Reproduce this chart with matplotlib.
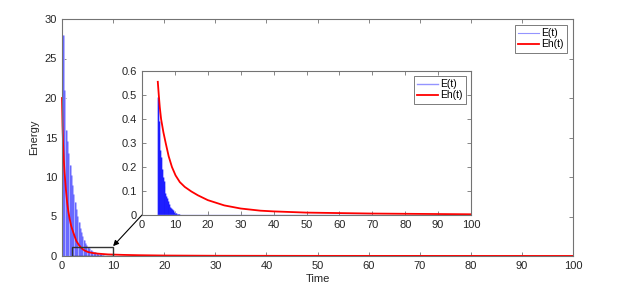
import numpy as np
import matplotlib.pyplot as plt
from matplotlib.patches import Rectangle

plt.rcParams['font.family'] = ['Liberation Sans', 'DejaVu Sans']
plt.rcParams['font.size'] = 8

# E(t) spikes in main plot (peak times and heights)
main_peak_t = [0.15, 0.45, 0.75, 1.0, 1.25, 1.5, 1.75, 2.0, 2.25, 2.5, 2.75, 3.0, 3.25,
               3.5, 3.75, 4.0, 4.25, 4.5, 4.75, 5.0, 5.3, 5.6, 5.9, 6.2, 6.5, 6.8,
               7.1, 7.4, 7.7, 8.0]
main_peak_e = [28, 21, 16, 14.5, 13, 11.5, 10.2, 9, 7.8, 6.8, 6, 5.1, 4.3,
               3.6, 3.0, 2.5, 2.0, 1.7, 1.4, 1.15, 0.95, 0.8, 0.65, 0.55, 0.45, 0.38,
               0.3, 0.25, 0.2, 0.15]

# Eh(t) in main plot
main_t = [0, 0.1, 0.2, 0.35, 0.5, 0.75, 1.0, 1.25, 1.5, 1.8, 2.2, 2.8, 3.3, 3.8, 4.4,
          5.1, 6, 7, 9, 12, 15, 20, 30, 50, 100]
main_eh = [20, 16.5, 14.4, 12.2, 10.6, 8.5, 6.8, 5.6, 4.7, 3.8, 3.0, 1.9, 1.4, 1.0, 0.7,
           0.5, 0.38, 0.3, 0.2, 0.14, 0.1, 0.06, 0.03, 0.015, 0.005]

# inset: E(t) spikes
ins_peak_t = [4.8, 5.05, 5.3, 5.55, 5.8, 6.05, 6.3, 6.55, 6.8, 7.05, 7.3, 7.55, 7.8,
              8.05, 8.3, 8.55, 8.8, 9.05, 9.3, 9.55, 9.8, 10.05, 10.3, 10.55, 10.8, 11.1]
ins_peak_e = [0.49, 0.39, 0.34, 0.27, 0.24, 0.19, 0.16, 0.14, 0.12, 0.09, 0.08, 0.07,
              0.06, 0.05, 0.045, 0.035, 0.03, 0.025, 0.02, 0.016, 0.013, 0.01, 0.008,
              0.006, 0.005, 0.003]

# inset: Eh(t)
ins_t = [4.8, 5.1, 5.4, 5.8, 6.5, 7.2, 8.1, 9.1, 10.2, 11.5, 13, 15, 17, 20, 25, 30,
         36, 40, 50, 60, 70, 80, 90, 100]
ins_eh = [0.555, 0.5, 0.45, 0.4, 0.345, 0.3, 0.245, 0.2, 0.165, 0.137, 0.117, 0.098,
          0.082, 0.062, 0.04, 0.027, 0.018, 0.015, 0.01, 0.008, 0.006, 0.005, 0.004, 0.003]

blue = '#1a1aff'
pale_blue = '#acacff'
legend_blue = '#9494ff'
red = '#ff0000'
axis_col = '0.45'
text_col = '0.15'


def style_axes(ax):
    for s in ax.spines.values():
        s.set_color(axis_col)
        s.set_linewidth(0.8)
    ax.tick_params(direction='in', top=True, right=True, colors=axis_col,
                   labelcolor=text_col, labelsize=8, length=3, width=0.6)


def add_legend(ax, pad):
    leg = ax.legend(loc='upper right', fontsize=7.5, fancybox=False, framealpha=1,
                    edgecolor='0.4', handlelength=2.0, borderpad=0.3, labelspacing=0.1,
                    handletextpad=0.2, borderaxespad=pad)
    leg.get_frame().set_linewidth(0.6)


fig = plt.figure(figsize=(6.28, 2.91), dpi=100)

ax = fig.add_axes([62 / 628, 35 / 291, 511 / 628, 237 / 291])
ax.vlines(main_peak_t, 0, main_peak_e, color=pale_blue, lw=2.0, clip_on=False)
ax.vlines(main_peak_t, 0, main_peak_e, color=blue, lw=0.6, alpha=0.55, clip_on=False)
ax.plot([0, 100], [0, 0], color=legend_blue, lw=0.8, label='E(t)')
ax.plot(main_t, main_eh, color=red, lw=1.3, label='Eh(t)', clip_on=False)
ax.set_xlim(0, 100)
ax.set_ylim(0, 30)
ax.set_xticks(np.arange(0, 101, 10))
ax.set_yticks(np.arange(0, 31, 5))
ax.set_xlabel('Time', color=text_col, labelpad=2)
ax.set_ylabel('Energy', color=text_col, labelpad=4)
style_axes(ax)
add_legend(ax, 0.6)

# zoom box
ax.add_patch(Rectangle((2, 0), 8, 1.1, fill=False, edgecolor='0.2', lw=1.0, zorder=5))

# inset
ins_left, ins_bottom = 142 / 628, 76 / 291
axi = fig.add_axes([ins_left, ins_bottom, 329 / 628, 144 / 291])
axi.vlines(ins_peak_t, 0, ins_peak_e, color=pale_blue, lw=2.0)
axi.vlines(ins_peak_t, 0, ins_peak_e, color=blue, lw=0.7)
axi.plot([4.8, 70], [0, 0], color=legend_blue, lw=1.0, label='E(t)')
axi.plot(ins_t, ins_eh, color=red, lw=1.3, label='Eh(t)')
axi.set_xlim(0, 100)
axi.set_ylim(0, 0.6)
axi.set_xticks(np.arange(0, 101, 10))
axi.set_yticks(np.arange(0, 0.61, 0.1))
axi.set_yticklabels(['0', '0.1', '0.2', '0.3', '0.4', '0.5', '0.6'])
style_axes(axi)
add_legend(axi, 0.5)

ax.annotate('', xy=(10, 1.25), xycoords='data',
            xytext=(ins_left, ins_bottom), textcoords='figure fraction',
            arrowprops=dict(arrowstyle='-|>', color='k', lw=0.8, mutation_scale=8,
                            shrinkA=0, shrinkB=0))

fig.savefig('out.png', dpi=100)
